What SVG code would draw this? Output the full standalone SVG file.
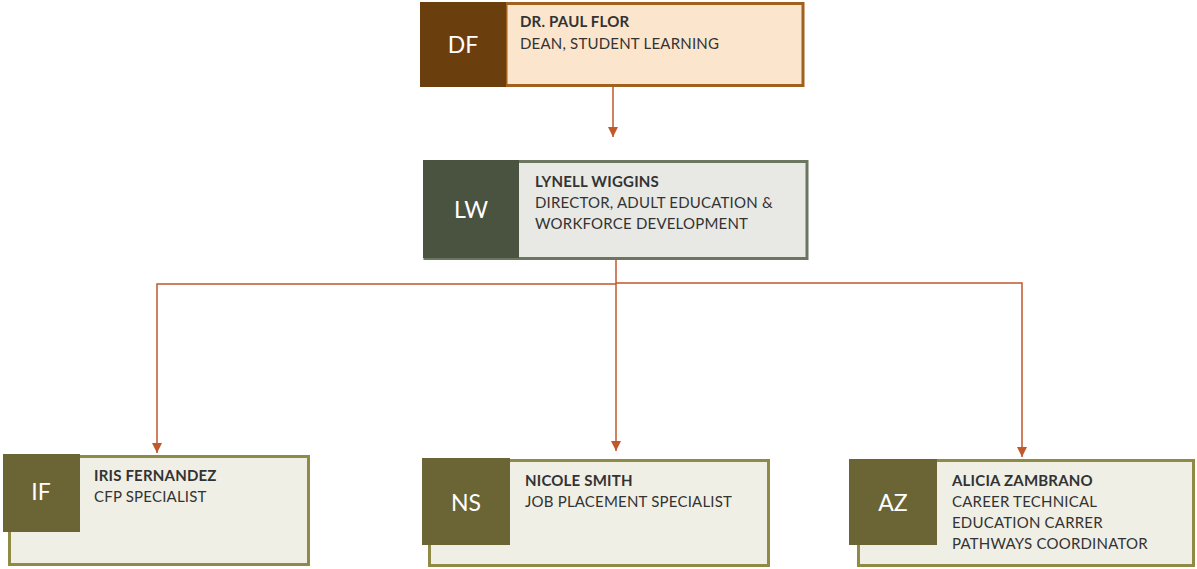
<svg xmlns="http://www.w3.org/2000/svg" width="1197" height="569" viewBox="0 0 1197 569">
<defs>
<marker id="ah" viewBox="0 0 10 10" refX="10" refY="5" markerWidth="10" markerHeight="10" markerUnits="userSpaceOnUse" orient="auto">
<path d="M0,0 L10,5 L0,10 z" fill="#c0582b"/>
</marker>
</defs>
<style>
.t{font-family:Lato,"Open Sans",sans-serif;font-size:15px;letter-spacing:0.2px;fill:#333333}
.b{font-weight:bold}
.ini{font-family:Lato,"Open Sans",sans-serif;font-size:23px;fill:#ffffff;text-anchor:middle}
.c{fill:none;stroke:#c0582b;stroke-width:1.5}
</style>
<rect width="1197" height="569" fill="#ffffff"/>
<g id="connectors">
<path class="c" d="M613,87 V137" marker-end="url(#ah)"/>
<path class="c" d="M616,260 V451" marker-end="url(#ah)"/>
<path class="c" d="M616,284 H157 V453" marker-end="url(#ah)"/>
<path class="c" d="M616,283 H1022 V457" marker-end="url(#ah)"/>
</g>
<g id="node-df">
<rect x="506" y="3.5" width="297" height="82" fill="#fbe5cc" stroke="#a0601e" stroke-width="3"/>
<rect x="420" y="2" width="86" height="85" fill="#6b3f0d"/>
<text class="ini" x="463" y="53">DF</text>
<text class="t b" x="520" y="27">DR. PAUL FLOR</text>
<text class="t" x="520" y="49">DEAN, STUDENT LEARNING</text>
</g>
<g id="node-lw">
<rect x="425" y="161.5" width="382" height="97" fill="#e8e9e4" stroke="#6b7560" stroke-width="3"/>
<rect x="423" y="160" width="96" height="98" fill="#4a5240"/>
<text class="ini" x="471" y="218">LW</text>
<text class="t b" x="535" y="187">LYNELL WIGGINS</text>
<text class="t" x="535" y="208">DIRECTOR, ADULT EDUCATION &amp;</text>
<text class="t" x="535" y="229">WORKFORCE DEVELOPMENT</text>
</g>
<g id="node-if">
<rect x="9.5" y="456.5" width="299" height="108" fill="#f0efe5" stroke="#8f8a45" stroke-width="3"/>
<rect x="3" y="454" width="77" height="78" fill="#6b6535"/>
<text class="ini" x="41" y="500">IF</text>
<text class="t b" x="94" y="481">IRIS FERNANDEZ</text>
<text class="t" x="94" y="502">CFP SPECIALIST</text>
</g>
<g id="node-ns">
<rect x="429.5" y="460.5" width="339" height="105" fill="#f0efe5" stroke="#8f8a45" stroke-width="3"/>
<rect x="422" y="458" width="88" height="87" fill="#6b6535"/>
<text class="ini" x="466" y="511">NS</text>
<text class="t b" x="525" y="486">NICOLE SMITH</text>
<text class="t" x="525" y="507">JOB PLACEMENT SPECIALIST</text>
</g>
<g id="node-az">
<rect x="858.5" y="460.5" width="335" height="105" fill="#f0efe5" stroke="#8f8a45" stroke-width="3"/>
<rect x="849" y="459" width="88" height="86" fill="#6b6535"/>
<text class="ini" x="893" y="511">AZ</text>
<text class="t b" x="952" y="486">ALICIA ZAMBRANO</text>
<text class="t" x="952" y="507">CAREER TECHNICAL</text>
<text class="t" x="952" y="528">EDUCATION CARRER</text>
<text class="t" x="952" y="549">PATHWAYS COORDINATOR</text>
</g>
</svg>
